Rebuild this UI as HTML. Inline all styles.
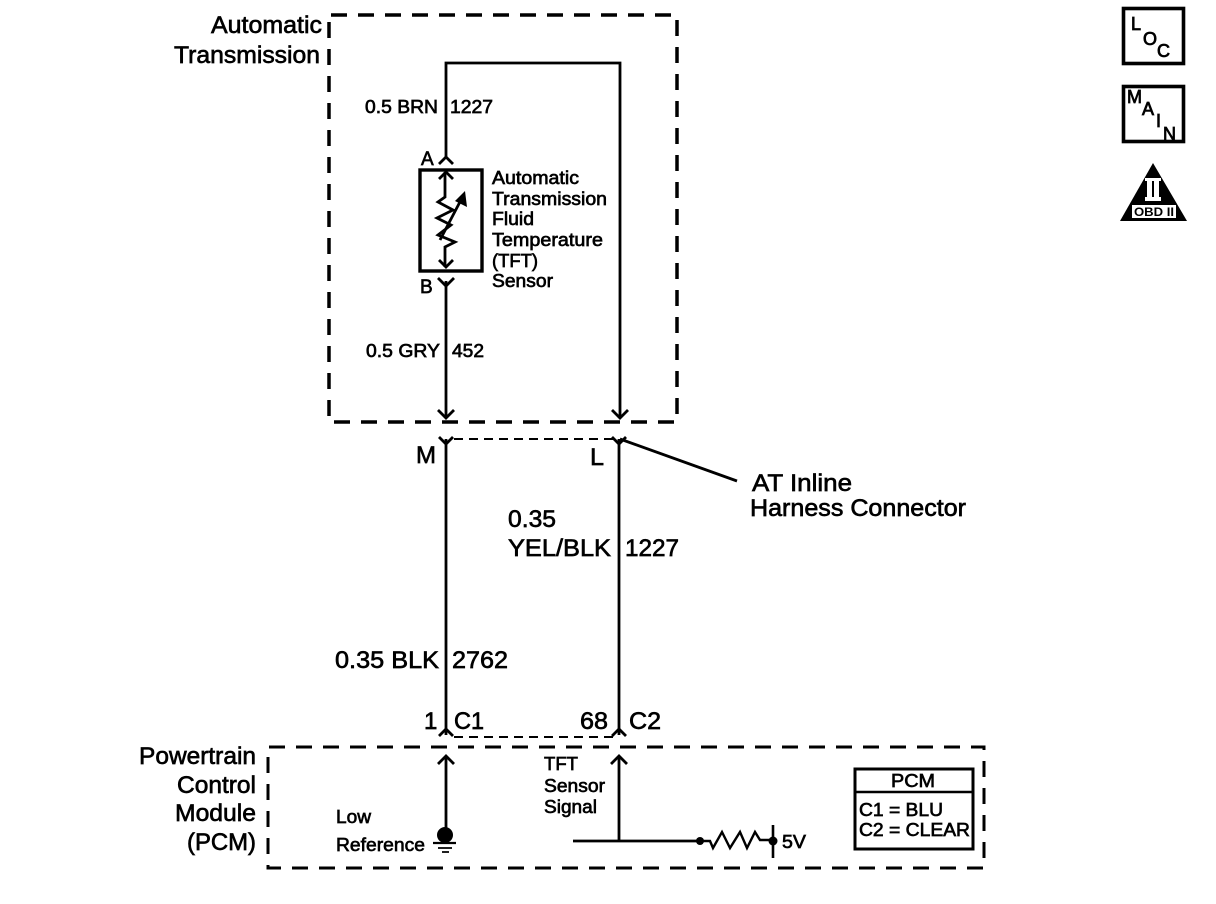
<!DOCTYPE html>
<html><head><meta charset="utf-8">
<style>
html,body{margin:0;padding:0;background:#fff;width:1216px;height:904px;overflow:hidden}
svg{display:block}
text{font-family:"Liberation Sans",sans-serif;fill:#000;stroke:#000;stroke-width:.65px}
</style></head><body>
<svg width="1216" height="904" viewBox="0 0 1216 904" xmlns="http://www.w3.org/2000/svg">
<g fill="none" stroke="#000" stroke-width="3">
<path d="M331 15H677V422H329V15" stroke-width="3.5" stroke-dasharray="16 11"/>
<path d="M269 747H984V868H268V747" stroke-width="3" stroke-dasharray="16 11"/>
<g stroke-width="2.8">
<path d="M446 158V63H620V417"/>
<path d="M446 281V417"/>
<path d="M446 439V735"/>
<path d="M619 439V735"/>
<path d="M446 757V830"/>
<path d="M619 757V841"/>
<path d="M573 841H700"/>
<path d="M620 439L737 481"/>
</g>
<path d="M454 439H613M454 737H613" stroke-width="2" stroke-dasharray="9 6"/>
<g stroke-width="2.8">
<path d="M439 164L446 157L453 164"/>
<path d="M438 278L446 286L454 278"/>
<path d="M439 437L446 444L453 437"/>
<path d="M612 437L619 444L626 437"/>
<path d="M439 736L446 729L453 736"/>
<path d="M612 736L619 729L626 736"/>
<path d="M438 410L446 418L454 410"/>
<path d="M612 410L620 418L628 410"/>
<path d="M438 764L446 756L454 764"/>
<path d="M611 764L619 756L627 764"/>
</g>
<rect x="420" y="170" width="62" height="101" stroke-width="3.4"/>
<path d="M445 172V197L438 202L453 210L437 218L451 225L438 235L455 242L445 247V267" stroke-width="2.8"/>
<path d="M439 179L446 172L453 179M439 260L446 267L453 260" stroke-width="2.8"/>
<path d="M440 240L462 198" stroke-width="2.8"/>
<path d="M700 841H710L713 848L722 832L730 848L740 832L747 848L755 832L760 840H772" stroke-width="2.4"/>
<path d="M773 825V858" stroke-width="2.6"/>
<rect x="855" y="769" width="118" height="80" stroke-width="3"/>
<path d="M855 792H973" stroke-width="2.6"/>
<rect x="1123.5" y="8.5" width="60" height="55" stroke-width="3.6"/>
<rect x="1123.5" y="86.5" width="60" height="55" stroke-width="3.6"/>
<path d="M433 843H456" stroke-width="2.2"/>
<path d="M438 848H452M442 852H449" stroke-width="1.8"/>
</g>
<path d="M465 191L467 207L455 201Z"/>
<circle cx="445" cy="835" r="8"/>
<circle cx="700" cy="841" r="4"/>
<circle cx="773" cy="841" r="4.5"/>
<path d="M1153 163L1187 221H1120Z"/>
<rect x="1132" y="205" width="44" height="13" fill="#fff"/>
<path d="M1145 178H1161V181H1159V197H1161V201H1145V197H1147V181H1145Z" fill="#fff"/>
<path d="M1152 181h2v16h-2z"/>

<g font-size="24">
<text x="211" y="33" textLength="111" lengthAdjust="spacingAndGlyphs">Automatic</text>
<text x="174" y="63" textLength="146" lengthAdjust="spacingAndGlyphs">Transmission</text>
<text x="139" y="764" textLength="117" lengthAdjust="spacingAndGlyphs">Powertrain</text>
<text x="177" y="793" textLength="79" lengthAdjust="spacingAndGlyphs">Control</text>
<text x="175" y="821" textLength="81" lengthAdjust="spacingAndGlyphs">Module</text>
<text x="187" y="850" textLength="69" lengthAdjust="spacingAndGlyphs">(PCM)</text>
<text x="752" y="491" textLength="100" lengthAdjust="spacingAndGlyphs">AT Inline</text>
<text x="750" y="516" textLength="216" lengthAdjust="spacingAndGlyphs">Harness Connector</text>
<text x="508" y="527" textLength="48" lengthAdjust="spacingAndGlyphs">0.35</text>
<text x="508" y="556" textLength="103" lengthAdjust="spacingAndGlyphs">YEL/BLK</text>
<text x="625" y="556" textLength="54" lengthAdjust="spacingAndGlyphs">1227</text>
<text x="335" y="668" textLength="104" lengthAdjust="spacingAndGlyphs">0.35 BLK</text>
<text x="452" y="668" textLength="56" lengthAdjust="spacingAndGlyphs">2762</text>
<text x="424" y="729">1</text>
<text x="454" y="729" textLength="30" lengthAdjust="spacingAndGlyphs">C1</text>
<text x="580" y="729" textLength="28" lengthAdjust="spacingAndGlyphs">68</text>
<text x="629" y="729" textLength="32" lengthAdjust="spacingAndGlyphs">C2</text>
<text x="416" y="463" textLength="20" lengthAdjust="spacingAndGlyphs">M</text>
<text x="590" y="465" textLength="14" lengthAdjust="spacingAndGlyphs">L</text>
</g>
<g font-size="18">
<text x="365" y="113" textLength="73" lengthAdjust="spacingAndGlyphs">0.5 BRN</text>
<text x="450" y="113" textLength="43" lengthAdjust="spacingAndGlyphs">1227</text>
<text x="366" y="357" textLength="74" lengthAdjust="spacingAndGlyphs">0.5 GRY</text>
<text x="452" y="357" textLength="32" lengthAdjust="spacingAndGlyphs">452</text>
<text x="421" y="165" font-size="19">A</text>
<text x="420" y="293" font-size="19">B</text>
<text x="492" y="184" textLength="87" lengthAdjust="spacingAndGlyphs">Automatic</text>
<text x="492" y="205" textLength="115" lengthAdjust="spacingAndGlyphs">Transmission</text>
<text x="492" y="225" textLength="42" lengthAdjust="spacingAndGlyphs">Fluid</text>
<text x="492" y="246" textLength="111" lengthAdjust="spacingAndGlyphs">Temperature</text>
<text x="492" y="267" textLength="46" lengthAdjust="spacingAndGlyphs">(TFT)</text>
<text x="492" y="287" textLength="61" lengthAdjust="spacingAndGlyphs">Sensor</text>
<text x="544" y="770" textLength="34" lengthAdjust="spacingAndGlyphs">TFT</text>
<text x="544" y="792" textLength="61" lengthAdjust="spacingAndGlyphs">Sensor</text>
<text x="544" y="813" textLength="53" lengthAdjust="spacingAndGlyphs">Signal</text>
<text x="782" y="848" textLength="24" lengthAdjust="spacingAndGlyphs">5V</text>
<text x="891" y="787" textLength="44" lengthAdjust="spacingAndGlyphs">PCM</text>
<text x="859" y="816" textLength="84" lengthAdjust="spacingAndGlyphs">C1 = BLU</text>
<text x="859" y="836" textLength="111" lengthAdjust="spacingAndGlyphs">C2 = CLEAR</text>
<text x="1131" y="30" style="stroke-width:.8">L</text>
<text x="1143" y="45" style="stroke-width:.8">O</text>
<text x="1157" y="57" style="stroke-width:.8">C</text>
<text x="1127" y="103" style="stroke-width:.8">M</text>
<text x="1142" y="115" style="stroke-width:.8">A</text>
<text x="1156" y="127" style="stroke-width:.8">I</text>
<text x="1163" y="140" style="stroke-width:.8">N</text>
<text x="336" y="823" textLength="35" lengthAdjust="spacingAndGlyphs">Low</text>
<text x="336" y="851" textLength="89" lengthAdjust="spacingAndGlyphs">Reference</text>
</g>
<text x="1134" y="216" font-size="12" font-weight="bold" textLength="40" lengthAdjust="spacingAndGlyphs" style="stroke-width:0">OBD II</text>
</svg>
</body></html>
